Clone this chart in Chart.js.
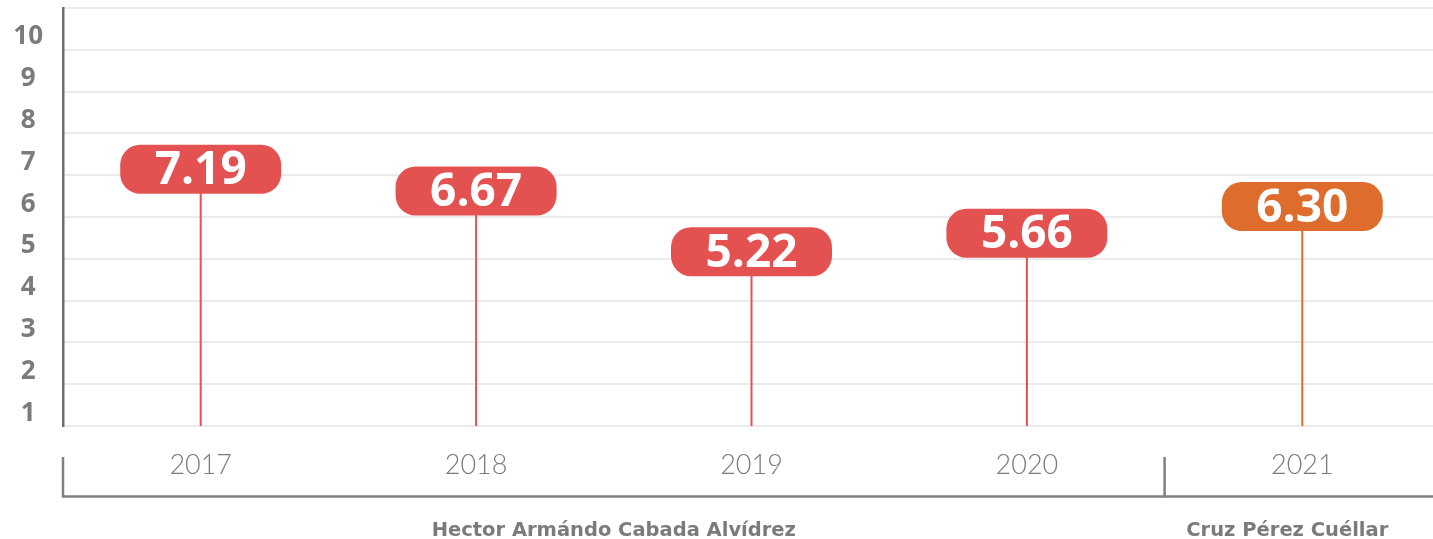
<!DOCTYPE html>
<html>
<head>
<meta charset="utf-8">
<script src="https://cdn.jsdelivr.net/npm/chart.js@4.4.1/dist/chart.umd.min.js"></script>
<style>
    html, body { margin: 0; padding: 0; background: #fff; overflow: hidden; }
    #wrap { position: relative; width: 1440px; height: 539px; }
</style>
</head>
<body>
<div id="wrap"><canvas id="chart"></canvas></div>
<script>
const years = ['2017', '2018', '2019', '2020', '2021'];
const scores = [7.19, 6.67, 5.22, 5.66, 6.30];
const pointColors = ['#E45151', '#E45151', '#E45151', '#E45151', '#DE6C2C'];
const yTicks = [0, 1, 2, 3, 4, 5, 6, 7, 8, 9, 10];
const mayors = ['Hector Armándo Cabada Alvídrez', 'Cruz Pérez Cuéllar'];
const mayorYears = [['2017', '2018', '2019', '2020'], ['2021']];

const GRAY = '#7b7b7b';

// stem + rounded value badge for every point
const lollipops = {
    id: 'lollipops',
    afterDatasetsDraw(chart) {
        const ctx = chart.ctx;
        const y = chart.scales.y;
        const base = y.getPixelForValue(0);
        // the badges sit about one step under their value in the original
        const drop = base - y.getPixelForValue(1.05);
        const w = 161, h = 49;

        chart.getDatasetMeta(0).data.forEach((pt, i) => {
            const cy = pt.y + drop;
            ctx.save();
            ctx.strokeStyle = pointColors[i];
            ctx.lineWidth = 2;
            ctx.beginPath();
            ctx.moveTo(pt.x, base);
            ctx.lineTo(pt.x, cy);
            ctx.stroke();

            ctx.fillStyle = pointColors[i];
            ctx.beginPath();
            ctx.roundRect(pt.x - w / 2, cy - h / 2, w, h, 20);
            ctx.fill();

            ctx.fillStyle = '#fff';
            ctx.font = 'bold 46px "Open Sans"';
            ctx.textAlign = 'center';
            ctx.textBaseline = 'middle';
            ctx.fillText(scores[i].toFixed(2), pt.x, cy + 2);
            ctx.restore();
        });
    }
};

// bracket under the years with the mayor names
const brackets = {
    id: 'brackets',
    afterDraw(chart) {
        const ctx = chart.ctx;
        const x = chart.scales.x;
        const top = x.top + 31, line = x.top + 70.5, textY = x.top + 105;
        let start = chart.chartArea.left;

        ctx.save();
        ctx.strokeStyle = '#808080';
        ctx.lineWidth = 2.5;
        ctx.fillStyle = GRAY;
        ctx.font = 'bold 19.5px "DejaVu Sans"';
        ctx.textAlign = 'center';
        ctx.textBaseline = 'middle';

        mayorYears.forEach((ys, g) => {
            const last = years.indexOf(ys[ys.length - 1]);
            const end = last < years.length - 1
                ? (x.getPixelForValue(last) + x.getPixelForValue(last + 1)) / 2
                : chart.width;

            ctx.beginPath();
            ctx.moveTo(start, top);
            ctx.lineTo(start, line);
            ctx.lineTo(end, line);
            ctx.stroke();

            ctx.fillText(mayors[g], (start + Math.min(end, 1410)) / 2, textY);
            start = end;
        });
        ctx.restore();
    }
};

new Chart(document.getElementById('chart').getContext('2d'), {
    type: 'line',
    data: {
        labels: years,
        datasets: [{
            data: scores,
            showLine: false,
            pointRadius: 0,
            pointHoverRadius: 0
        }]
    },
    options: {
        responsive: true,
        maintainAspectRatio: false,
        animation: false,
        layout: { padding: { top: 8, right: 0, bottom: 0, left: 0 } },
        plugins: {
            legend: { display: false },
            tooltip: { enabled: false }
        },
        scales: {
            x: {
                offset: true,
                grid: { display: false },
                border: { display: false },
                ticks: {
                    color: GRAY,
                    padding: 15,
                    font: { family: 'Lato', size: 27, weight: 300 }
                },
                afterFit: scale => { scale.height = 113; }
            },
            y: {
                min: 0,
                max: 10,
                afterBuildTicks: scale => { scale.ticks = yTicks.map(v => ({ value: v })); },
                grid: { color: '#ebebeb', lineWidth: 2, drawTicks: false },
                border: { display: true, color: '#6f6f6f', width: 2.5 },
                ticks: {
                    color: GRAY,
                    padding: 20,
                    labelOffset: 29,
                    crossAlign: 'center',
                    font: { family: 'Open Sans', size: 26, weight: 'bold' },
                    callback: v => v === 0 ? '' : v
                },
                afterFit: scale => {
                    scale.width = 63;
                    scale.paddingTop = 0;
                    scale.paddingBottom = 0;
                }
            }
        }
    },
    plugins: [lollipops, brackets]
});
</script>
</body>
</html>
